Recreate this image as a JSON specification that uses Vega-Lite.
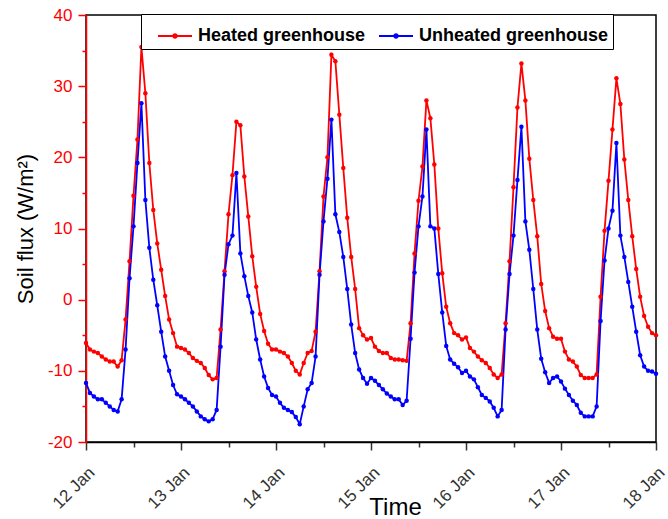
{
"$schema": "https://vega.github.io/schema/vega-lite/v6.json",
"width": 570, "height": 427,
"autosize": {"type": "none"},
"padding": {"left": 86, "top": 15, "right": 12, "bottom": 77},
"background": "white",
"config": {"view": {"stroke": "black", "strokeWidth": 1.5}, "font": "Liberation Sans"},
"data": {"values": [
{"t":"2024-01-12T00:00Z","H":-6.1,"U":-11.7},{"t":"2024-01-12T01:00Z","H":-7.0,"U":-13.1},{"t":"2024-01-12T02:00Z","H":-7.3,"U":-13.6},{"t":"2024-01-12T03:00Z","H":-7.5,"U":-14.0},{"t":"2024-01-12T04:00Z","H":-8.0,"U":-14.0},{"t":"2024-01-12T05:00Z","H":-8.4,"U":-14.5},{"t":"2024-01-12T06:00Z","H":-8.7,"U":-15.0},{"t":"2024-01-12T07:00Z","H":-8.7,"U":-15.5},{"t":"2024-01-12T08:00Z","H":-9.4,"U":-15.7},{"t":"2024-01-12T09:00Z","H":-8.5,"U":-14.0},{"t":"2024-01-12T10:00Z","H":-2.8,"U":-7.0},{"t":"2024-01-12T11:00Z","H":5.4,"U":3.0},{"t":"2024-01-12T12:00Z","H":14.6,"U":10.3},{"t":"2024-01-12T13:00Z","H":22.5,"U":19.2},{"t":"2024-01-12T14:00Z","H":35.5,"U":27.6},{"t":"2024-01-12T15:00Z","H":29.0,"U":14.0},{"t":"2024-01-12T16:00Z","H":19.2,"U":7.3},{"t":"2024-01-12T17:00Z","H":12.6,"U":2.8},{"t":"2024-01-12T18:00Z","H":7.9,"U":-0.8},{"t":"2024-01-12T19:00Z","H":4.2,"U":-4.5},{"t":"2024-01-12T20:00Z","H":0.5,"U":-8.0},{"t":"2024-01-12T21:00Z","H":-2.8,"U":-10.0},{"t":"2024-01-12T22:00Z","H":-4.7,"U":-12.0},{"t":"2024-01-12T23:00Z","H":-6.6,"U":-13.3},
{"t":"2024-01-13T00:00Z","H":-6.8,"U":-13.6},{"t":"2024-01-13T01:00Z","H":-7.0,"U":-14.0},{"t":"2024-01-13T02:00Z","H":-7.5,"U":-14.5},{"t":"2024-01-13T03:00Z","H":-8.2,"U":-15.0},{"t":"2024-01-13T04:00Z","H":-8.6,"U":-15.7},{"t":"2024-01-13T05:00Z","H":-8.9,"U":-16.4},{"t":"2024-01-13T06:00Z","H":-9.6,"U":-16.8},{"t":"2024-01-13T07:00Z","H":-10.6,"U":-17.1},{"t":"2024-01-13T08:00Z","H":-11.2,"U":-16.8},{"t":"2024-01-13T09:00Z","H":-11.0,"U":-15.5},{"t":"2024-01-13T10:00Z","H":-4.2,"U":-6.6},{"t":"2024-01-13T11:00Z","H":4.0,"U":3.5},{"t":"2024-01-13T12:00Z","H":12.0,"U":7.8},{"t":"2024-01-13T13:00Z","H":17.5,"U":9.0},{"t":"2024-01-13T14:00Z","H":25.0,"U":17.8},{"t":"2024-01-13T15:00Z","H":24.5,"U":6.5},{"t":"2024-01-13T16:00Z","H":17.3,"U":3.3},{"t":"2024-01-13T17:00Z","H":11.7,"U":0.5},{"t":"2024-01-13T18:00Z","H":6.1,"U":-1.8},{"t":"2024-01-13T19:00Z","H":1.8,"U":-5.6},{"t":"2024-01-13T20:00Z","H":-2.0,"U":-8.4},{"t":"2024-01-13T21:00Z","H":-4.4,"U":-10.8},{"t":"2024-01-13T22:00Z","H":-6.2,"U":-12.4},{"t":"2024-01-13T23:00Z","H":-7.0,"U":-13.4},
{"t":"2024-01-14T00:00Z","H":-7.0,"U":-13.6},{"t":"2024-01-14T01:00Z","H":-7.3,"U":-14.5},{"t":"2024-01-14T02:00Z","H":-7.5,"U":-15.2},{"t":"2024-01-14T03:00Z","H":-8.0,"U":-15.5},{"t":"2024-01-14T04:00Z","H":-8.9,"U":-15.8},{"t":"2024-01-14T05:00Z","H":-10.0,"U":-16.5},{"t":"2024-01-14T06:00Z","H":-10.5,"U":-17.5},{"t":"2024-01-14T07:00Z","H":-8.9,"U":-15.0},{"t":"2024-01-14T08:00Z","H":-7.5,"U":-12.6},{"t":"2024-01-14T09:00Z","H":-7.2,"U":-11.7},{"t":"2024-01-14T10:00Z","H":-4.5,"U":-8.0},{"t":"2024-01-14T11:00Z","H":4.0,"U":3.5},{"t":"2024-01-14T12:00Z","H":14.5,"U":11.0},{"t":"2024-01-14T13:00Z","H":20.0,"U":17.0},{"t":"2024-01-14T14:00Z","H":34.4,"U":25.3},{"t":"2024-01-14T15:00Z","H":33.5,"U":12.0},{"t":"2024-01-14T16:00Z","H":26.0,"U":9.5},{"t":"2024-01-14T17:00Z","H":18.5,"U":6.0},{"t":"2024-01-14T18:00Z","H":11.5,"U":1.5},{"t":"2024-01-14T19:00Z","H":6.0,"U":-3.5},{"t":"2024-01-14T20:00Z","H":1.5,"U":-7.5},{"t":"2024-01-14T21:00Z","H":-4.0,"U":-9.8},{"t":"2024-01-14T22:00Z","H":-5.0,"U":-11.0},{"t":"2024-01-14T23:00Z","H":-5.6,"U":-11.8},
{"t":"2024-01-15T00:00Z","H":-5.4,"U":-11.0},{"t":"2024-01-15T01:00Z","H":-6.6,"U":-11.4},{"t":"2024-01-15T02:00Z","H":-7.2,"U":-12.0},{"t":"2024-01-15T03:00Z","H":-7.5,"U":-12.6},{"t":"2024-01-15T04:00Z","H":-7.5,"U":-13.2},{"t":"2024-01-15T05:00Z","H":-8.2,"U":-13.6},{"t":"2024-01-15T06:00Z","H":-8.4,"U":-14.0},{"t":"2024-01-15T07:00Z","H":-8.4,"U":-14.0},{"t":"2024-01-15T08:00Z","H":-8.5,"U":-14.8},{"t":"2024-01-15T09:00Z","H":-8.6,"U":-14.2},{"t":"2024-01-15T10:00Z","H":-3.3,"U":-5.5},{"t":"2024-01-15T11:00Z","H":6.5,"U":3.8},{"t":"2024-01-15T12:00Z","H":13.9,"U":10.3},{"t":"2024-01-15T13:00Z","H":18.7,"U":14.5},{"t":"2024-01-15T14:00Z","H":28.0,"U":23.9},{"t":"2024-01-15T15:00Z","H":25.5,"U":10.3},{"t":"2024-01-15T16:00Z","H":19.0,"U":10.0},{"t":"2024-01-15T17:00Z","H":10.0,"U":3.6},{"t":"2024-01-15T18:00Z","H":3.7,"U":-1.8},{"t":"2024-01-15T19:00Z","H":-1.0,"U":-6.5},{"t":"2024-01-15T20:00Z","H":-3.3,"U":-8.4},{"t":"2024-01-15T21:00Z","H":-4.7,"U":-9.0},{"t":"2024-01-15T22:00Z","H":-5.0,"U":-9.5},{"t":"2024-01-15T23:00Z","H":-5.6,"U":-10.3},
{"t":"2024-01-16T00:00Z","H":-5.3,"U":-10.0},{"t":"2024-01-16T01:00Z","H":-6.8,"U":-10.8},{"t":"2024-01-16T02:00Z","H":-7.3,"U":-11.2},{"t":"2024-01-16T03:00Z","H":-8.0,"U":-12.3},{"t":"2024-01-16T04:00Z","H":-8.5,"U":-13.4},{"t":"2024-01-16T05:00Z","H":-8.9,"U":-13.8},{"t":"2024-01-16T06:00Z","H":-9.6,"U":-14.3},{"t":"2024-01-16T07:00Z","H":-10.5,"U":-15.2},{"t":"2024-01-16T08:00Z","H":-11.0,"U":-16.4},{"t":"2024-01-16T09:00Z","H":-10.5,"U":-15.5},{"t":"2024-01-16T10:00Z","H":-3.3,"U":-4.2},{"t":"2024-01-16T11:00Z","H":5.4,"U":3.6},{"t":"2024-01-16T12:00Z","H":15.8,"U":9.0},{"t":"2024-01-16T13:00Z","H":27.0,"U":16.8},{"t":"2024-01-16T14:00Z","H":33.2,"U":24.3},{"t":"2024-01-16T15:00Z","H":28.0,"U":11.0},{"t":"2024-01-16T16:00Z","H":19.8,"U":7.0},{"t":"2024-01-16T17:00Z","H":14.0,"U":1.5},{"t":"2024-01-16T18:00Z","H":8.9,"U":-4.2},{"t":"2024-01-16T19:00Z","H":2.2,"U":-8.3},{"t":"2024-01-16T20:00Z","H":-1.6,"U":-10.2},{"t":"2024-01-16T21:00Z","H":-4.0,"U":-11.7},{"t":"2024-01-16T22:00Z","H":-5.2,"U":-11.0},{"t":"2024-01-16T23:00Z","H":-5.5,"U":-10.8},
{"t":"2024-01-17T00:00Z","H":-5.5,"U":-11.5},{"t":"2024-01-17T01:00Z","H":-7.3,"U":-12.5},{"t":"2024-01-17T02:00Z","H":-8.4,"U":-13.4},{"t":"2024-01-17T03:00Z","H":-8.7,"U":-14.2},{"t":"2024-01-17T04:00Z","H":-9.4,"U":-14.8},{"t":"2024-01-17T05:00Z","H":-10.6,"U":-15.9},{"t":"2024-01-17T06:00Z","H":-11.0,"U":-16.4},{"t":"2024-01-17T07:00Z","H":-11.0,"U":-16.4},{"t":"2024-01-17T08:00Z","H":-11.0,"U":-16.4},{"t":"2024-01-17T09:00Z","H":-10.5,"U":-15.0},{"t":"2024-01-17T10:00Z","H":0.4,"U":-3.0},{"t":"2024-01-17T11:00Z","H":9.7,"U":5.5},{"t":"2024-01-17T12:00Z","H":16.7,"U":10.0},{"t":"2024-01-17T13:00Z","H":23.9,"U":12.5},{"t":"2024-01-17T14:00Z","H":31.1,"U":22.0},{"t":"2024-01-17T15:00Z","H":27.5,"U":9.0},{"t":"2024-01-17T16:00Z","H":19.7,"U":6.0},{"t":"2024-01-17T17:00Z","H":14.0,"U":2.5},{"t":"2024-01-17T18:00Z","H":8.9,"U":-1.0},{"t":"2024-01-17T19:00Z","H":4.3,"U":-4.5},{"t":"2024-01-17T20:00Z","H":0.4,"U":-7.8},{"t":"2024-01-17T21:00Z","H":-2.3,"U":-9.4},{"t":"2024-01-17T22:00Z","H":-3.8,"U":-10.0},{"t":"2024-01-17T23:00Z","H":-4.7,"U":-10.1},
{"t":"2024-01-18T00:00Z","H":-5.0,"U":-10.4}
]},
"transform": [{"fold": ["H", "U"], "as": ["s", "v"]}],
"mark": {"type": "line", "strokeWidth": 1.8, "point": {"filled": true, "size": 20}},
"encoding": {
"x": {"field": "t", "type": "temporal",
"scale": {"type": "utc", "domain": [1705017600000, 1705536000000]},
"axis": {"values": [1705017600000,1705060800000,1705104000000,1705147200000,1705190400000,1705233600000,1705276800000,1705320000000,1705363200000,1705406400000,1705449600000,1705492800000,1705536000000],
"labelExpr": "utchours(datum.value) == 0 ? utcFormat(datum.value, '%-d %b') : ''",
"labelAngle": -45, "labelFontSize": 17, "labelColor": "#333333", "labelPadding": 14,
"tickSize": {"condition": {"test": "utchours(datum.value) != 0", "value": 5}, "value": 8},
"tickColor": "#333333", "tickWidth": 1.5, "domainColor": "black", "domainWidth": 1.5, "grid": false,
"title": "Time", "titleFontSize": 24, "titleFontWeight": "normal", "titleColor": "black",
"titleX": 309, "titleY": 72, "titleAlign": "center", "titleBaseline": "alphabetic"}},
"y": {"field": "v", "type": "quantitative",
"scale": {"domain": [-20, 40], "nice": false, "zero": false},
"axis": {"values": [-20,-15,-10,-5,0,5,10,15,20,25,30,35,40],
"labelExpr": "datum.value % 10 == 0 ? '' + datum.value : ''",
"tickSize": {"condition": {"test": "datum.value % 10 != 0", "value": 4}, "value": 8},
"labelColor": "#ff0000", "labelFontSize": 17, "labelPadding": 6,
"tickColor": "#ff0000", "tickWidth": 1.5, "domainColor": "#ff0000", "domainWidth": 1.5, "grid": false,
"title": "Soil flux (W/m²)", "titleFontSize": 22, "titleFontWeight": "normal", "titleColor": "black", "titlePadding": 10}},
"color": {"field": "s", "type": "nominal",
"scale": {"domain": ["H", "U"], "range": ["#ff0000", "#0000ff"]},
"legend": {"title": null, "orient": "none", "legendX": 55, "legendY": -1, "direction": "horizontal",
"strokeColor": "black", "fillColor": "white", "padding": 4,
"labelFontSize": 18, "labelFontWeight": "bold", "labelColor": "black", "labelLimit": 300,
"labelExpr": "datum.label == 'H' ? 'Heated greenhouse' : 'Unheated greenhouse'",
"symbolType": "M-1,0H1M-0.1,0A0.1,0.1,0,1,1,0.1,0A0.1,0.1,0,1,1,-0.1,0",
"symbolSize": 1156, "symbolStrokeWidth": 2, "symbolOffset": 12, "columnPadding": 0, "labelOffset": 5}}
}
}
